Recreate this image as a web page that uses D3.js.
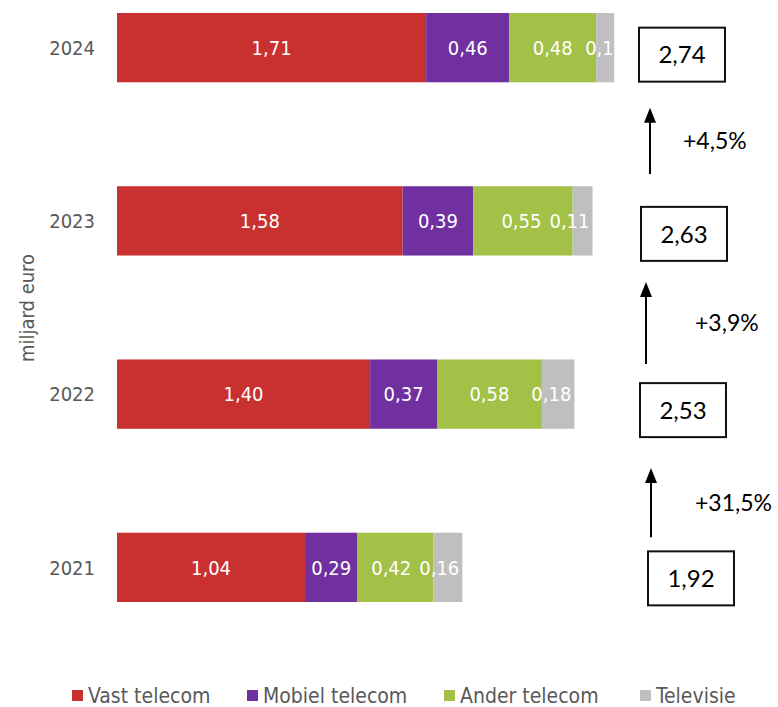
<!DOCTYPE html>
<html>
<head>
<meta charset="utf-8">
<script src="https://cdn.jsdelivr.net/npm/d3@7"></script>
<style>
  body { margin: 0; background: #fff; }
  svg { display: block; font-family: "DejaVu Sans Condensed", "DejaVu Sans", sans-serif; font-stretch: condensed; }
  .note { font-family: Lato, "Open Sans", sans-serif; font-stretch: normal; }
</style>
</head>
<body>
<div id="chart"></div>
<script>
// data
const years = ['2024', '2023', '2022', '2021']
const series = ['Vast telecom', 'Mobiel telecom', 'Ander telecom', 'Televisie']
const vast = [1.71, 1.58, 1.40, 1.04]
const mobiel = [0.46, 0.39, 0.37, 0.29]
const ander = [0.48, 0.55, 0.58, 0.42]
const televisie = [0.10, 0.11, 0.18, 0.16]
const totals = [2.74, 2.63, 2.53, 1.92]
const growth = ['+4,5%', '+3,9%', '+31,5%'] // between years[i+1] -> years[i]

const colors = ['#c8312f', '#7030a0', '#a2c146', '#bfbfbf']

const width = 778
const height = 707
const fmt = v => v.toFixed(2).replace('.', ',')

const svg = d3.select('#chart').append('svg')
  .attr('width', width)
  .attr('height', height)

const x = d3.scaleLinear().domain([0, 3.5]).range([117, 117 + 3.5 * 180.8])
const y = d3.scaleBand().domain(years).range([13, 602]).paddingInner(0.6).paddingOuter(0)

const rows = years.map((yr, i) => {
  const vals = [vast[i], mobiel[i], ander[i], televisie[i]]
  let acc = 0
  const segs = vals.map((v, j) => {
    const s = { year: yr, key: series[j], value: v, x0: acc, x1: acc + v, color: colors[j] }
    acc += v
    return s
  })
  return { year: yr, segs, end: acc, total: totals[i] }
})

// clip paths so labels stay inside each bar
const defs = svg.append('defs')
rows.forEach((r, i) => {
  defs.append('clipPath').attr('id', 'clip' + i)
    .append('rect')
    .attr('x', x(0)).attr('y', y(r.year))
    .attr('width', x(r.end) - x(0)).attr('height', y.bandwidth())
})

const rowG = svg.selectAll('g.row').data(rows).enter()
  .append('g').attr('class', 'row')

rowG.selectAll('rect').data(d => d.segs).enter()
  .append('rect')
  .attr('x', d => x(d.x0))
  .attr('y', d => y(d.year))
  .attr('width', d => x(d.x1) - x(d.x0))
  .attr('height', y.bandwidth())
  .attr('fill', d => d.color)

const labelG = rowG.append('g')
  .attr('clip-path', (d, i) => 'url(#clip' + i + ')')

labelG.each(function (row) {
  const g = d3.select(this)
  const items = row.segs.map(s => {
    const t = g.append('text')
      .attr('y', y(s.year) + y.bandwidth() / 2)
      .attr('dy', '0.36em')
      .attr('text-anchor', 'middle')
      .attr('fill', '#fff')
      .style('font-size', '20px')
      .text(fmt(s.value))
    return { t, w: t.node().getComputedTextLength(), cx: (x(s.x0) + x(s.x1)) / 2 }
  })
  // pull labels back inside the bar end, right to left (tiny last segments stay clipped)
  const last = row.segs[row.segs.length - 1]
  if (last.value > 0.1) {
    let limit = x(row.end) - 3
    for (let k = items.length - 1; k >= 0; k--) {
      const it = items[k]
      if (it.cx + it.w / 2 > limit) it.cx = limit - it.w / 2
      limit = it.cx - it.w / 2 - 8
    }
  }
  items.forEach(it => it.t.attr('x', it.cx))
})

// year labels
svg.append('g').selectAll('text').data(years).enter()
  .append('text')
  .attr('x', 95)
  .attr('y', d => y(d) + y.bandwidth() / 2)
  .attr('dy', '0.36em')
  .attr('text-anchor', 'end')
  .attr('fill', '#595959')
  .style('font-size', '20px')
  .text(d => d)

svg.append('text')
  .attr('transform', 'translate(34,308) rotate(-90)')
  .attr('text-anchor', 'middle')
  .attr('fill', '#595959')
  .style('font-size', '20px')
  .text('miljard euro')

// total boxes
const boxW = 86
const boxH = 54
const boxNudgeX = [0, 2, 1, 9]
const boxNudgeY = [-4, 2, 5, 0]
const boxX = (i) => 639 + boxNudgeX[i]
const boxY = (i) => y(years[i]) + y.bandwidth() / 2 + 11 + boxNudgeY[i] - boxH / 2

const boxG = svg.append('g').selectAll('g').data(rows).enter().append('g')
boxG.append('rect')
  .attr('x', (d, i) => boxX(i))
  .attr('y', (d, i) => boxY(i))
  .attr('width', boxW)
  .attr('height', boxH)
  .attr('fill', '#fff')
  .attr('stroke', '#111')
  .attr('stroke-width', 2)
boxG.append('text')
  .attr('class', 'note')
  .attr('x', (d, i) => boxX(i) + boxW / 2)
  .attr('y', (d, i) => boxY(i) + boxH / 2)
  .attr('dy', '0.36em')
  .attr('text-anchor', 'middle')
  .attr('fill', '#000')
  .style('font-size', '24px')
  .text(d => fmt(d.total))

// growth arrows
const arrowX = [650, 646, 651]
const tipGap = [26, 21, 31]
const tailGap = [33, 19, 14]
const labelX = [683, 695, 695]
growth.forEach((g, i) => {
  const top = boxY(i) + boxH + tipGap[i]
  const bottom = boxY(i + 1) - tailGap[i]
  const ax = arrowX[i]
  const ag = svg.append('g')
  ag.append('line')
    .attr('x1', ax).attr('x2', ax)
    .attr('y1', bottom).attr('y2', top + 12)
    .attr('stroke', '#000').attr('stroke-width', 2)
  ag.append('path')
    .attr('d', d3.line()([[ax - 6, top + 15], [ax, top], [ax + 6, top + 15]]) + 'Z')
    .attr('fill', '#000')
  ag.append('text')
    .attr('class', 'note')
    .attr('x', labelX[i])
    .attr('y', (top + bottom) / 2)
    .attr('dy', '0.36em')
    .attr('fill', '#000')
    .style('font-size', '23px')
    .text(g)
})

// legend
const legendX = [72, 247, 444, 640]
const legend = svg.append('g').selectAll('g').data(series).enter()
  .append('g')
  .attr('transform', (d, i) => 'translate(' + legendX[i] + ',695)')
legend.append('rect')
  .attr('x', 0).attr('y', -5)
  .attr('width', 11).attr('height', 11)
  .attr('fill', (d, i) => colors[i])
legend.append('text')
  .attr('x', 16)
  .attr('dy', '0.36em')
  .attr('fill', '#595959')
  .style('font-size', '21px')
  .text(d => d)
</script>
</body>
</html>
